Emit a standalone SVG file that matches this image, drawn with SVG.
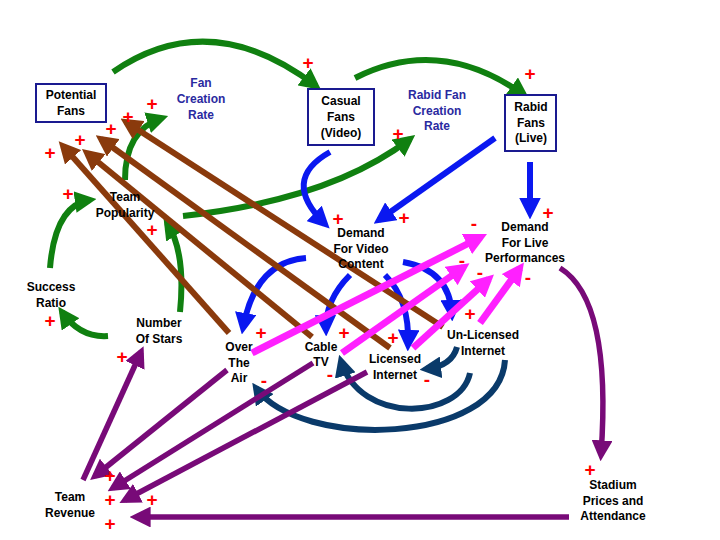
<svg xmlns="http://www.w3.org/2000/svg" width="720" height="540" viewBox="0 0 720 540">
<style>
text{font-family:"Liberation Sans",Arial,sans-serif;font-weight:bold;font-size:12px;text-anchor:middle}
.n{fill:#000}
.r{fill:#2a2aa0}
.box{fill:#fff;stroke:#1a1a90;stroke-width:2}
.s{fill:#f00;font-size:19px;dominant-baseline:central}
path,line{fill:none;stroke-width:6}
.g{stroke:#108010;marker-end:url(#mg)}
.b{stroke:#0a18f0;marker-end:url(#mb)}
.br{stroke:#8a3a0c;marker-end:url(#mbr)}
.nv{stroke:#0a3a6a;marker-end:url(#mn)}
.m{stroke:#ff20ff;stroke-width:7;marker-end:url(#mm)}
.p{stroke:#780a78;stroke-width:5.5;marker-end:url(#mp)}
</style>
<defs>
<marker id="mg" viewBox="0 0 10 10" refX="7" refY="5" markerWidth="3.6" markerHeight="3.6" orient="auto"><path d="M0,0L10,5L0,10z" style="fill:#108010;stroke:none"/></marker>
<marker id="mb" viewBox="0 0 10 10" refX="7" refY="5" markerWidth="3.6" markerHeight="3.6" orient="auto"><path d="M0,0L10,5L0,10z" style="fill:#0a18f0;stroke:none"/></marker>
<marker id="mbr" viewBox="0 0 10 10" refX="7" refY="5" markerWidth="3.6" markerHeight="3.6" orient="auto"><path d="M0,0L10,5L0,10z" style="fill:#8a3a0c;stroke:none"/></marker>
<marker id="mn" viewBox="0 0 10 10" refX="7" refY="5" markerWidth="3.6" markerHeight="3.6" orient="auto"><path d="M0,0L10,5L0,10z" style="fill:#0a3a6a;stroke:none"/></marker>
<marker id="mm" viewBox="0 0 10 10" refX="7" refY="5" markerWidth="3.2" markerHeight="3.2" orient="auto"><path d="M0,0L10,5L0,10z" style="fill:#ff20ff;stroke:none"/></marker>
<marker id="mp" viewBox="0 0 10 10" refX="7" refY="5" markerWidth="3.8" markerHeight="3.8" orient="auto"><path d="M0,0L10,5L0,10z" style="fill:#780a78;stroke:none"/></marker>
</defs>
<rect width="720" height="540" fill="#fff"/>
<g id="connectors">
<path class="g" d="M113,72 Q210,5 316,86"/>
<path class="g" d="M355,78 Q440,35 524,95"/>
<path class="g" d="M125,180 Q125,130 162,118"/>
<path class="g" d="M50,268 Q55,205 90,200"/>
<path class="g" d="M108,336 Q80,338 62,312"/>
<path class="g" d="M180,312 Q186,252 167,223"/>
<path class="g" d="M183,216 Q330,200 410,139"/>
<path class="b" d="M330,152 Q280,180 325,224"/>
<line class="b" x1="495" y1="138" x2="379" y2="220"/>
<line class="b" x1="530" y1="162" x2="530" y2="213"/>
<path class="b" d="M306,258 Q255,262 243,328"/>
<path class="b" d="M350,275 Q325,300 326,330"/>
<path class="b" d="M385,275 Q410,300 408,345"/>
<path class="b" d="M403,262 Q450,270 452,315"/>
<line class="br" x1="229" y1="333" x2="63" y2="146"/>
<line class="br" x1="312" y1="337" x2="87" y2="153"/>
<line class="br" x1="390" y1="348" x2="101" y2="139"/>
<line class="br" x1="443" y1="327" x2="126" y2="122"/>
<path class="nv" d="M457,347 Q452,366 426,369"/>
<path class="nv" d="M470,373 C460,420 360,425 341,361"/>
<path class="nv" d="M505,360 C500,445 300,450 256,388"/>
<line class="m" x1="252" y1="353" x2="481" y2="237"/>
<line class="m" x1="342" y1="353" x2="464" y2="267"/>
<line class="m" x1="413" y1="348" x2="489" y2="279"/>
<line class="m" x1="480" y1="323" x2="520" y2="268"/>
<path class="p" d="M560,268 Q612,300 601,455"/>
<line class="p" x1="569" y1="517" x2="136" y2="517"/>
<line class="p" x1="227" y1="370" x2="95" y2="476"/>
<line class="p" x1="313" y1="363" x2="113" y2="488"/>
<line class="p" x1="367" y1="372" x2="125" y2="500"/>
<line class="p" x1="83" y1="480" x2="141" y2="352"/>
</g>
<g id="potential-fans"><rect class="box" x="36" y="84" width="70" height="38"/><text class="n" x="71" y="99">Potential</text><text class="n" x="71" y="115">Fans</text></g>
<g id="fan-creation-rate"><text class="r" x="201" y="87">Fan</text><text class="r" x="201" y="103">Creation</text><text class="r" x="201" y="119">Rate</text></g>
<g id="casual-fans"><rect class="box" x="308" y="89" width="66" height="56"/><text class="n" x="341" y="105">Casual</text><text class="n" x="341" y="121">Fans</text><text class="n" x="341" y="137">(Video)</text></g>
<g id="rabid-fan-creation-rate"><text class="r" x="437" y="99">Rabid Fan</text><text class="r" x="437" y="115">Creation</text><text class="r" x="437" y="130">Rate</text></g>
<g id="rabid-fans"><rect class="box" x="505" y="95" width="51" height="56"/><text class="n" x="531" y="111">Rabid</text><text class="n" x="531" y="127">Fans</text><text class="n" x="531" y="142">(Live)</text></g>
<g id="team-popularity"><text class="n" x="125" y="201">Team</text><text class="n" x="125" y="217">Popularity</text></g>
<g id="success-ratio"><text class="n" x="51" y="291">Success</text><text class="n" x="51" y="307">Ratio</text></g>
<g id="number-of-stars"><text class="n" x="159" y="327">Number</text><text class="n" x="159" y="343">Of Stars</text></g>
<g id="demand-video"><text class="n" x="361" y="237">Demand</text><text class="n" x="361" y="253">For Video</text><text class="n" x="361" y="268">Content</text></g>
<g id="demand-live"><text class="n" x="525" y="231">Demand</text><text class="n" x="525" y="247">For Live</text><text class="n" x="525" y="262">Performances</text></g>
<g id="over-the-air"><text class="n" x="239" y="351">Over</text><text class="n" x="239" y="367">The</text><text class="n" x="239" y="382">Air</text></g>
<g id="cable-tv"><text class="n" x="321" y="351">Cable</text><text class="n" x="321" y="366">TV</text></g>
<g id="licensed-internet"><text class="n" x="395" y="363">Licensed</text><text class="n" x="395" y="379">Internet</text></g>
<g id="unlicensed-internet"><text class="n" x="483" y="339">Un-Licensed</text><text class="n" x="483" y="355">Internet</text></g>
<g id="team-revenue"><text class="n" x="70" y="501">Team</text><text class="n" x="70" y="517">Revenue</text></g>
<g id="stadium"><text class="n" x="613" y="489">Stadium</text><text class="n" x="613" y="505">Prices and</text><text class="n" x="613" y="520">Attendance</text></g>
<g id="signs">
<text class="s" x="308" y="62">+</text><text class="s" x="530" y="73">+</text><text class="s" x="152" y="103">+</text><text class="s" x="128" y="116">+</text><text class="s" x="111" y="128">+</text><text class="s" x="80" y="139">+</text><text class="s" x="50" y="152">+</text><text class="s" x="68" y="193">+</text><text class="s" x="152" y="229">+</text><text class="s" x="338" y="218">+</text><text class="s" x="398" y="133">+</text><text class="s" x="404" y="217">+</text><text class="s" x="548" y="212">+</text>
<text class="s" x="261" y="332">+</text><text class="s" x="344" y="332">+</text><text class="s" x="393" y="337">+</text><text class="s" x="470" y="313">+</text>
<text class="s" x="50" y="320">+</text><text class="s" x="122" y="356">+</text><text class="s" x="110" y="475">+</text><text class="s" x="110" y="499">+</text><text class="s" x="152" y="499">+</text><text class="s" x="110" y="523">+</text><text class="s" x="590" y="469">+</text>
<text class="s" x="474" y="223">-</text><text class="s" x="462" y="260">-</text><text class="s" x="480" y="272">-</text><text class="s" x="528" y="277">-</text><text class="s" x="264" y="380">-</text><text class="s" x="330" y="374">-</text><text class="s" x="427" y="379">-</text>
</g>
</svg>
